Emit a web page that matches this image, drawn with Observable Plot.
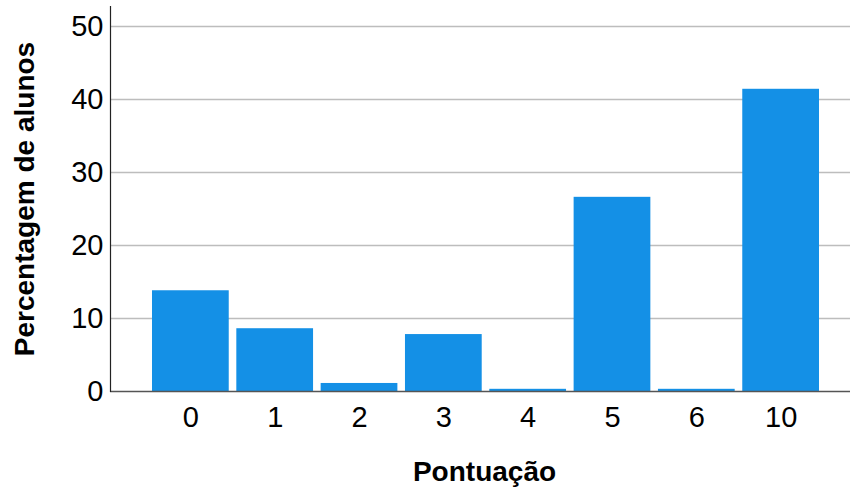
<!DOCTYPE html>
<html>
<head>
<meta charset="utf-8">
<script src="https://cdn.jsdelivr.net/npm/d3@7"></script>
<script src="https://cdn.jsdelivr.net/npm/@observablehq/plot@0.6"></script>
<style>
  html, body { margin: 0; padding: 0; background: #fff; }
  #chart svg { font-family: "Liberation Sans", Arial, sans-serif; display: block; }
</style>
</head>
<body>
<div id="chart"></div>
<script>
const categories = ["0", "1", "2", "3", "4", "5", "6", "10"];
const percentages = [13.8, 8.6, 1.1, 7.8, 0.3, 26.6, 0.3, 41.4];
const yTicks = [0, 10, 20, 30, 40, 50];

const data = categories.map((c, i) => ({ score: c, pct: percentages[i] }));

const chart = Plot.plot({
  width: 850,
  height: 492,
  marginLeft: 110,
  marginRight: 0,
  marginTop: 6,
  marginBottom: 101,
  style: { fontFamily: "'Liberation Sans', Arial, sans-serif", background: "#fff" },
  x: { domain: categories, range: [148.2, 822.8], paddingInner: 0.09, paddingOuter: 0.045, round: false },
  y: { domain: [0, 52.74] },
  marks: [
    Plot.ruleY(yTicks.filter(d => d > 0), { stroke: "#bdbdbd", strokeWidth: 1.6 }),
    Plot.barY(data, { x: "score", y: "pct", fill: "#1490e6" }),
    Plot.ruleY([0], { stroke: "#555", strokeWidth: 1.5 }),
    Plot.frame({ anchor: "left", stroke: "#222", strokeWidth: 1.2 }),
    Plot.axisY({ ticks: yTicks, tickSize: 0, tickPadding: 7, fontSize: 29, fill: "#000",
      label: "Percentagem de alunos", labelAnchor: "center", labelArrow: "none", labelOffset: 96 }),
    Plot.axisX({ tickSize: 0, tickPadding: 15, fontSize: 29, fill: "#000",
      label: "Pontuação", labelAnchor: "center", labelArrow: "none", labelOffset: 89 })
  ]
});
document.getElementById("chart").appendChild(chart);
// style axis titles bold
chart.querySelectorAll("g[aria-label='y-axis label'] text, g[aria-label='x-axis label'] text").forEach(t => {
  t.setAttribute("font-weight", "bold");
  t.setAttribute("font-size", "28");
});
chart.querySelectorAll("g[aria-label='x-axis label'] text").forEach(t => {
  t.setAttribute("dx", "4");
});
</script>
</body>
</html>
